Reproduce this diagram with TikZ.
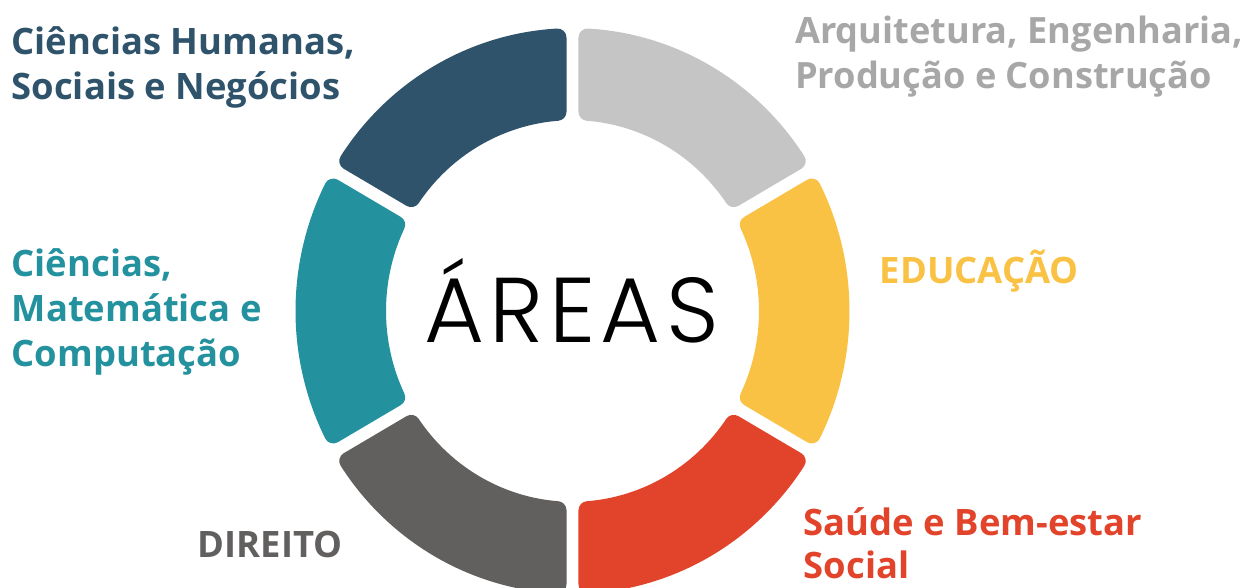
\documentclass[tikz,border=0pt]{standalone}
\usepackage{fontspec}
\setmainfont{Open Sans}
\newfontfamily\titlefont{Poppins Light}[LetterSpace=6]
\definecolor{cblue}{HTML}{2E536B}
\definecolor{cgraylt}{HTML}{C4C5C4}
\definecolor{cgraytxt}{HTML}{A6A7A6}
\definecolor{cyellow}{HTML}{F9C244}
\definecolor{cred}{HTML}{E2442B}
\definecolor{cgraydk}{HTML}{62605E}
\definecolor{cteal}{HTML}{23929E}
\newcommand\ringseg[2]{%
  \pgfmathsetmacro\aOut{asin(15/268)}%
  \pgfmathsetmacro\aIn{asin(15/195.5)}%
  \pgfmathsetmacro\sA{#1+\aOut}%
  \pgfmathsetmacro\eA{#1+60-\aOut}%
  \pgfmathsetmacro\sB{#1+60-\aIn}%
  \pgfmathsetmacro\eB{#1+\aIn}%
  \path[segstyle, fill=#2, draw=#2]
    (\sA:268) arc[start angle=\sA, end angle=\eA, radius=268]
    -- (\sB:195.5) arc[start angle=\sB, end angle=\eB, radius=195.5] -- cycle;}
\tikzset{
  segstyle/.style={line width=18pt, line join=round},
  lab/.style={inner sep=0pt, anchor=base west, align=left,
    font=\bfseries\fontsize{36.4}{45}\selectfont}
}
\begin{document}
\begin{tikzpicture}[x=1pt,y=1pt]
  \useasboundingbox (-572.5,-277) rectangle (669.5,311);
  \clip (-572.5,-277) rectangle (669.5,311);
  \begin{scope}[yscale=1.022]
    \ringseg{30}{cgraylt}
    \ringseg{90}{cblue}
    \ringseg{150}{cteal}
    \ringseg{210}{cgraydk}
    \ringseg{270}{cred}
    \ringseg{-30}{cyellow}
  \end{scope}
  \node[inner sep=0pt, anchor=base, font=\titlefont\fontsize{92}{96}\selectfont] (title) at (-1,-32) {ÁREAS};
  \node[lab, text=cblue] (humanas) at (-561,211) {Ciências Humanas,\\Sociais e Negócios};
  \node[lab, text=cgraytxt, font=\bfseries\fontsize{36.2}{45}\selectfont] (arq) at (222.5,222) {Arquitetura, Engenharia,\\Produção e Construção};
  \node[lab, text=cteal] (ciencias) at (-561,-56) {Ciências,\\Matemática e\\Computação};
  \node[lab, text=cyellow] (educ) at (307,27) {EDUCAÇÃO};
  \node[lab, text=cgraydk] (direito) at (-375,-247) {DIREITO};
  \node[lab, text=cred, font=\bfseries\fontsize{36.4}{43}\selectfont] (saude) at (231,-267) {Saúde e Bem-estar\\Social};
\end{tikzpicture}
\end{document}
